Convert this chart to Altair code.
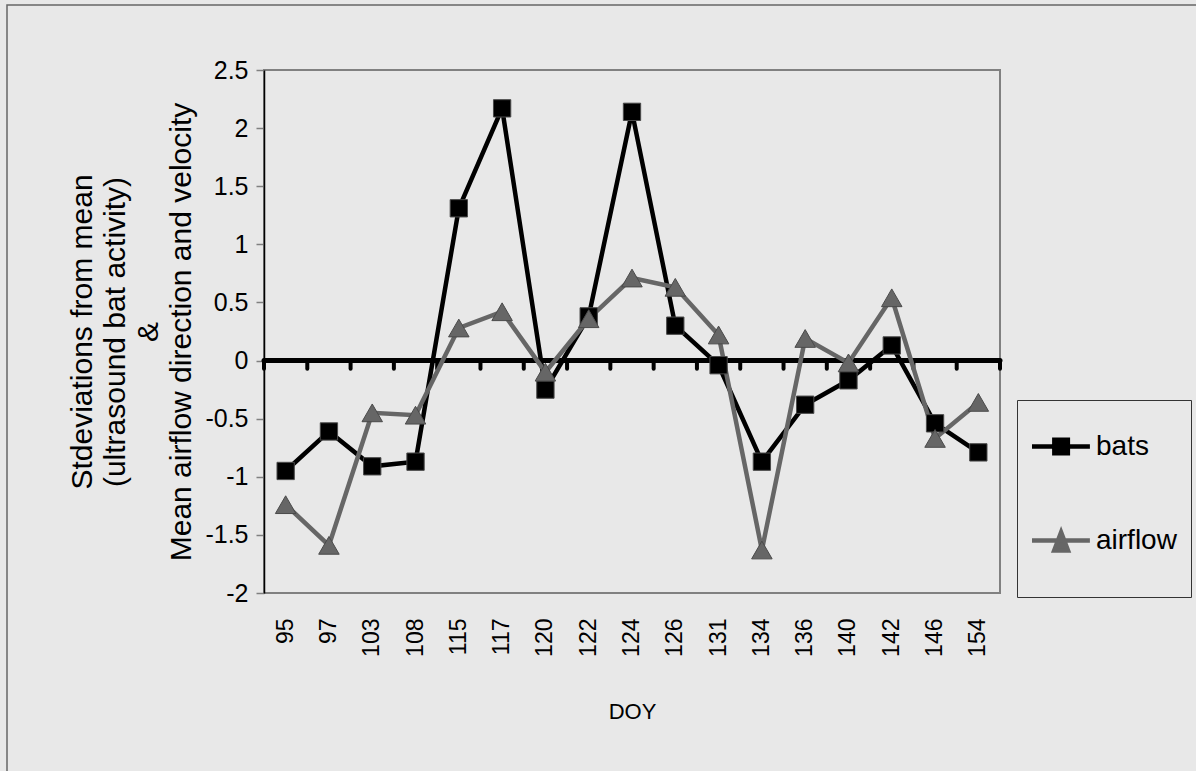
import altair as alt
import pandas as pd

# Day of year (category axis) and the two standardised series
doy = ["95", "97", "103", "108", "115", "117", "120", "122", "124",
       "126", "131", "134", "136", "140", "142", "146", "154"]
bats = [-0.95, -0.61, -0.91, -0.87, 1.31, 2.17, -0.25, 0.38, 2.14,
        0.30, -0.04, -0.87, -0.38, -0.17, 0.13, -0.54, -0.79]
airflow = [-1.24, -1.59, -0.45, -0.47, 0.28, 0.42, -0.10, 0.36, 0.71,
           0.63, 0.22, -1.63, 0.19, -0.02, 0.54, -0.67, -0.36]

series = ["bats", "airflow"]
series_colors = ["#000000", "#666666"]
y_ticks = [-2, -1.5, -1, -0.5, 0, 0.5, 1, 1.5, 2, 2.5]
y_title = ["Stdeviations from mean", "(ultrasound bat activity)", "&",
           "Mean airflow direction and velocity"]

FONT = "Liberation Sans"
BG = "#e8e8e8"
W, H = 736, 523

long_df = pd.DataFrame({
    "doy": doy * 2,
    "series": [series[0]] * len(doy) + [series[1]] * len(doy),
    "value": bats + airflow,
})
ticks_df = pd.DataFrame({"doy": doy})
zero_df = pd.DataFrame({"zero": [0.0]})
frame_df = pd.DataFrame({"k": [0]})

x_scale = alt.Scale(type="band", paddingInner=0, paddingOuter=0)
y_scale = alt.Scale(domain=[-2, 2.5], nice=False, zero=False)

x_axis = alt.Axis(
    title="DOY", labelAngle=270, labelFontSize=23, labelPadding=25,
    ticks=False, tickSize=0, domain=False, labelColor="#000000",
    titleFontSize=22, titleFontWeight="normal", titleColor="#000000",
    titleY=118, titleBaseline="middle",
)
y_axis = alt.Axis(
    title=y_title, values=y_ticks, labelExpr="'' + datum.value",
    labelFontSize=25, labelColor="#000000", labelPadding=8,
    tickColor="#808080", tickSize=8, tickWidth=1.5,
    domainColor="#000000", domainWidth=1.5,
    titleFontSize=30, titleFontWeight="normal", titleColor="#000000",
    titleLineHeight=33, titleAngle=270, titleAlign="center",
    titleBaseline="middle", titleX=-182, titleY=H / 2,
)

# legend symbols: a short line segment with the series marker on it;
# the zero-length end segments keep the symbol box at its full height
corners = "M-1,-1.1L-1,-1.1M0.9,1.1L0.9,1.1"
bats_path = corners + "M-1.05,0H0.88M-0.305,-0.225H0.145V0.225H-0.305Z"
air_path = corners + "M-1.05,0H0.88M-0.08,-0.27L0.15,0.33H-0.31Z"
sym_shape = f"datum.value === '{series[0]}' ? '{bats_path}' : '{air_path}'"
sym_color = f"datum.value === '{series[0]}' ? '{series_colors[0]}' : '{series_colors[1]}'"

legend = alt.Legend(
    title=None, orient="none", legendX=753, legendY=330,
    padding=14, rowPadding=9, labelOffset=0,
    labelFontSize=28, labelColor="#000000", labelFont=FONT,
    strokeColor="#333333", fillColor=BG, symbolSize=3600,
    symbolType={"expr": sym_shape},
    symbolFillColor={"expr": sym_color},
    symbolStrokeColor={"expr": sym_color},
    symbolStrokeWidth=4.5, symbolOpacity=1,
)

color_enc = alt.Color("series:N", scale=alt.Scale(domain=series, range=series_colors),
                      legend=legend)

frame = alt.Chart(frame_df).mark_rect(filled=False, stroke="#666666", strokeWidth=1.5).encode(
    x=alt.value(-257), x2=alt.value(1000), y=alt.value(-65), y2=alt.value(800)
)

zero_line = alt.Chart(zero_df).mark_rule(color="#000000", strokeWidth=5, strokeCap="round").encode(
    y=alt.Y("zero:Q", scale=y_scale, axis=y_axis)
)

tick_marks = alt.Chart(ticks_df).mark_rule(color="#000000", strokeWidth=4, strokeCap="round").encode(
    x=alt.X("doy:O", sort=doy, scale=x_scale, bandPosition=0, axis=x_axis),
    y=alt.datum(0),
    y2=alt.datum(-0.07),
)
last_tick = alt.Chart(ticks_df).transform_filter(
    alt.datum.doy == doy[-1]
).mark_rule(color="#000000", strokeWidth=4, strokeCap="round").encode(
    x=alt.X("doy:O", sort=doy, scale=x_scale, bandPosition=1, axis=x_axis),
    y=alt.datum(0),
    y2=alt.datum(-0.07),
)

lines = alt.Chart(long_df).mark_line(strokeWidth=4.5).encode(
    x=alt.X("doy:O", sort=doy, scale=x_scale, bandPosition=0.5, axis=x_axis),
    y=alt.Y("value:Q", scale=y_scale, axis=y_axis),
    color=color_enc,
    detail="series:N",
)


def markers(name, shape, size, fill):
    return alt.Chart(long_df).transform_filter(
        alt.datum.series == name
    ).mark_point(filled=True, opacity=1, shape=shape, size=size, fill=fill,
                 stroke="#4a4a4a", strokeWidth=1).encode(
        x=alt.X("doy:O", sort=doy, scale=x_scale, bandPosition=0.5, axis=x_axis),
        y=alt.Y("value:Q", scale=y_scale, axis=y_axis),
    )


bats_pts = markers(series[0], "square", 300, series_colors[0])
air_pts = markers(series[1], "triangle-up", 420, series_colors[1])

chart = alt.layer(frame, zero_line, tick_marks, last_tick, lines, bats_pts, air_pts).properties(
    width=W, height=H,
    autosize=alt.AutoSizeParams(type="none"),
    padding={"left": 264, "top": 70, "right": 196, "bottom": 178},
    background=BG,
).configure(font=FONT).configure_view(
    stroke="#808080", strokeWidth=2
).configure_axis(grid=False)

chart.save("out.html", embed_options={"renderer": "svg", "actions": False})
